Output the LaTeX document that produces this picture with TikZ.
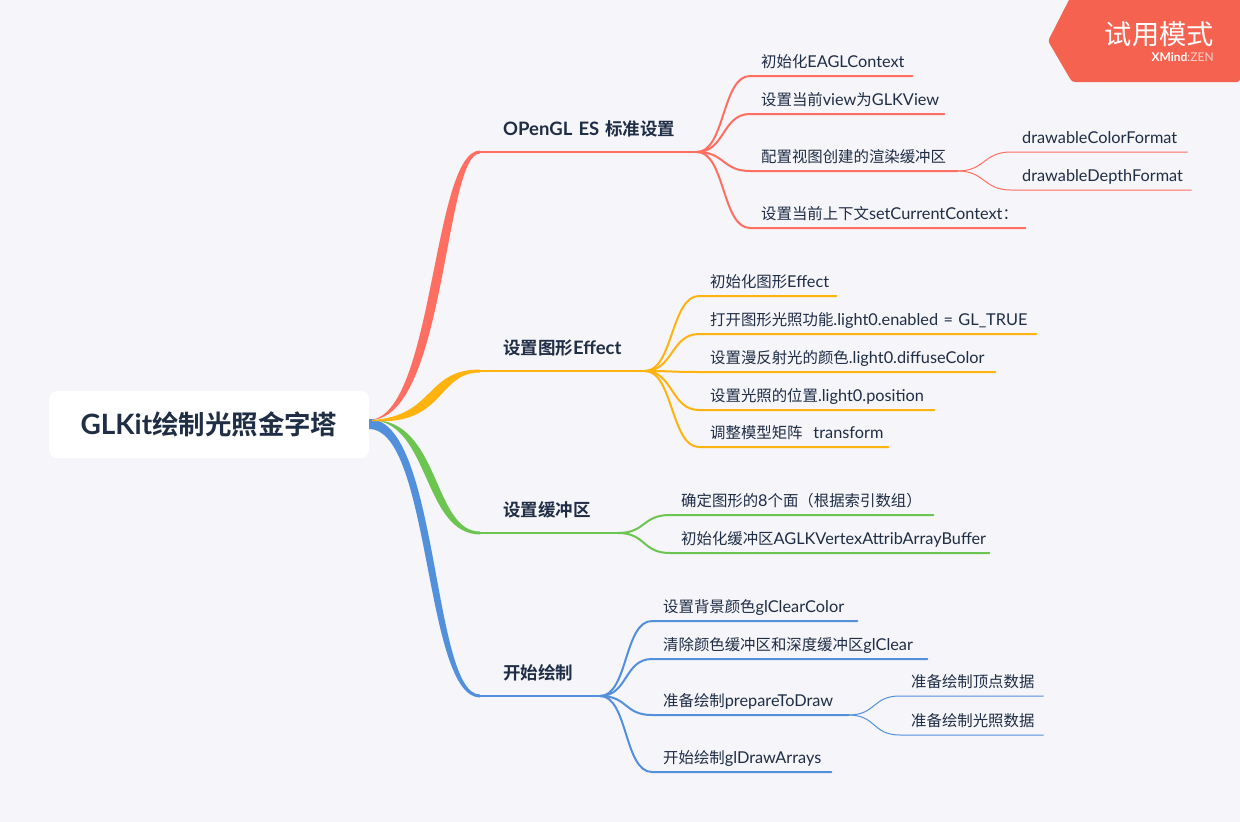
\documentclass[tikz,border=0pt]{standalone}
\usepackage{fontspec}
\setmainfont[WordSpace=0.75]{Lato}
\newfontfamily\cj[Scale=0.945,BoldFont={Noto Sans CJK SC Bold}]{Noto Sans CJK SC}
\newcommand{\C}[1]{{\cj #1}}
\definecolor{bgc}{HTML}{F5F5FA}
\definecolor{txt}{HTML}{1F2D45}
\definecolor{cred}{HTML}{FF6F61}
\definecolor{cora}{HTML}{FFB30F}
\definecolor{cgre}{HTML}{6CC551}
\definecolor{cblu}{HTML}{5390DC}
\definecolor{badge}{HTML}{F56350}
\tikzset{
  x=1pt,y=-1pt,
  topic/.style={anchor=south west,inner xsep=11pt,inner ysep=0pt,text height=12pt,text depth=8pt,text=txt,align=left,font=\fontsize{16.3}{18}\selectfont},
  mainlabel/.style={anchor=south west,inner xsep=23pt,inner ysep=0pt,text height=13pt,text depth=16pt,text=txt,align=left,font=\fontsize{18.5}{20}\selectfont\bfseries},
  conn/.style={line width=2pt,line cap=round},
  subconn/.style={line width=1pt,line cap=round},
}
\newcommand{\topic}[5]{\pgfmathsetmacro{\tw}{#4-#2-22}\node[topic,text width=\tw pt] (#1) at (#2,#3) {\mbox{#5}};}
\newcommand{\mainl}[5]{\pgfmathsetmacro{\tw}{#4-#2-46}\node[mainlabel,text width=\tw pt] (#1) at (#2,#3) {\mbox{#5}};}
\newcommand{\branch}[3]{\draw[conn,#1] (#2) .. controls +(28,0) and +(-28,0) .. (#3.south west) -- (#3.south east);}
\newcommand{\subbranch}[3]{\draw[subconn,#1] (#2) .. controls +(28,0) and +(-28,0) .. (#3.south west) -- (#3.south east);}
\begin{document}
\begin{tikzpicture}
\useasboundingbox (0,0) rectangle (1240,822);
\fill[bgc] (0,0) rectangle (1240,822);

% badge
\fill[badge,rounded corners=3pt] (1072,-6) -- (1246,-6) -- (1240,-6) -- (1240,82) -- (1072,82) -- (1048,41) -- cycle;
\node[anchor=east,inner sep=0pt,text=white,font=\fontsize{28.8}{30}\selectfont\cj] (bt) at (1214,34) {试用模式};
\node[anchor=east,inner sep=0pt,text=white,font=\fontsize{12}{12}\selectfont] (bz) at (1214,57) {\textbf{XMind}\textcolor{white!70!badge}{:ZEN}};

% root
\node[fill=white,rounded corners=8pt,minimum width=320pt,minimum height=67pt,inner sep=0pt,text=txt,font=\fontsize{28}{28}\selectfont\bfseries] (root) at (209,424.5) {GLKit\C{绘制光照金字塔}};

% main labels
\mainl{mA}{480}{152}{697}{OPenGL ES \C{标准设置}}
\mainl{mB}{480}{371}{645}{\C{设置图形}Effect}
\mainl{mC}{480}{533}{618}{\C{设置缓冲区}}
\mainl{mD}{480}{696}{600}{\C{开始绘制}}

% tapered main branches
\fill[cred] (369,420) .. controls (434,418) and (432,151) .. (480,150.5) -- (480,153.5) .. controls (444,153) and (446,422) .. (369,420) -- cycle;
\fill[cblu] (369,419) .. controls (439,419) and (432,695) .. (480,694.5) -- (480,697.5) .. controls (424,697) and (431,429) .. (369,429) -- cycle;
\fill[cgre] (372,420) .. controls (440,419) and (433,532) .. (480,531.5) -- (480,534.5) .. controls (423,534) and (430,423) .. (372,420) -- cycle;
\fill[cora] (372,420) .. controls (435,416) and (425,369.5) .. (480,369.5) -- (480,372.5) .. controls (437,372.5) and (445,426) .. (372,421) -- cycle;

% junctions
\coordinate (jA) at (697,152);
\coordinate (jB) at (645,371);
\coordinate (jC) at (618,533);
\coordinate (jD) at (600,696);
\draw[conn,cred] (mA.south west) -- (jA);
\draw[conn,cora] (mB.south west) -- (jB);
\draw[conn,cgre] (mC.south west) -- (jC);
\draw[conn,cblu] (mD.south west) -- (jD);

% red
\topic{a1}{750}{76}{912}{\C{初始化}EAGLContext}
\topic{a2}{750}{114}{944}{\C{设置当前}view\C{为}GLKView}
\topic{a3}{750}{171}{957}{\C{配置视图创建的渲染缓冲区}}
\topic{a4}{750}{228}{1025}{\C{设置当前上下文}setCurrentContext\C{：}}
\topic{a31}{1011}{152}{1187}{drawableColorFormat}
\topic{a32}{1011}{190}{1191}{drawableDepthFormat}
\branch{cred}{jA}{a1}\branch{cred}{jA}{a2}\branch{cred}{jA}{a3}\branch{cred}{jA}{a4}
\coordinate (j3) at (a3.south east);
\subbranch{cred}{j3}{a31}\subbranch{cred}{j3}{a32}

% orange
\topic{b1}{699}{296}{836}{\C{初始化图形}Effect}
\topic{b2}{699}{334}{1036}{\C{打开图形光照功能}.light0.enabled = GL\_TRUE}
\topic{b3}{699}{372}{995}{\C{设置漫反射光的颜色}.light0.diffuseColor}
\topic{b4}{699}{410}{934}{\C{设置光照的位置}.light0.position}
\topic{b5}{699}{447}{888}{\C{调整模型矩阵}\ \ transform}
\branch{cora}{jB}{b1}\branch{cora}{jB}{b2}\branch{cora}{jB}{b3}\branch{cora}{jB}{b4}\branch{cora}{jB}{b5}

% green
\topic{c1}{670}{515}{933}{\C{确定图形的}8\C{个面（根据索引数组）}}
\topic{c2}{670}{553}{989}{\C{初始化缓冲区}AGLKVertexAttribArrayBuffer}
\branch{cgre}{jC}{c1}\branch{cgre}{jC}{c2}

% blue
\topic{d1}{652}{621}{857}{\C{设置背景颜色}glClearColor}
\topic{d2}{652}{659}{927}{\C{清除颜色缓冲区和深度缓冲区}glClear}
\topic{d3}{652}{715}{848}{\C{准备绘制}prepareToDraw}
\topic{d4}{652}{772}{831}{\C{开始绘制}glDrawArrays}
\topic{d31}{900}{696}{1043}{\C{准备绘制顶点数据}}
\topic{d32}{900}{735}{1043}{\C{准备绘制光照数据}}
\branch{cblu}{jD}{d1}\branch{cblu}{jD}{d2}\branch{cblu}{jD}{d3}\branch{cblu}{jD}{d4}
\coordinate (j4) at (d3.south east);
\subbranch{cblu}{j4}{d31}\subbranch{cblu}{j4}{d32}
\end{tikzpicture}
\end{document}
